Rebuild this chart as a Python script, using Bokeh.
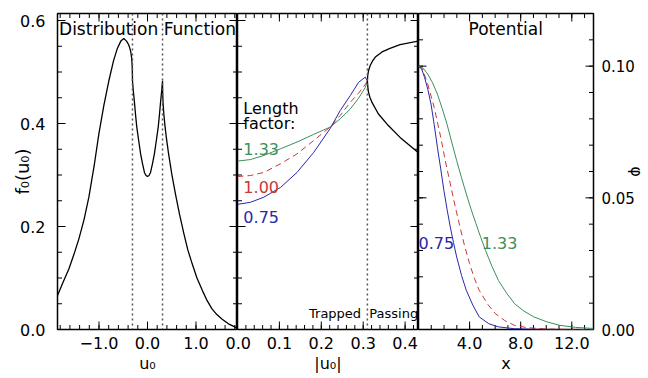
import math
from bokeh.plotting import figure
from bokeh.models import (Range1d, LinearAxis, FixedTicker, PrintfTickFormatter,
                          CustomJSTickFormatter, Label, Span)
from bokeh.layouts import row
from bokeh.embed import file_html
from bokeh.resources import INLINE

FONT = "DejaVu Sans"
GREEN = "#3b8f5c"
RED = "#c83737"
BLUE = "#2828a8"

# ---------------- data ----------------
# Panel 1: distribution function f0(u0)
u0 = [-1.856, -1.75, -1.62, -1.52, -1.415, -1.31, -1.209, -1.10, -1.003, -0.90,
      -0.797, -0.70, -0.625, -0.55, -0.488, -0.432, -0.388, -0.364, -0.345, -0.329,
      -0.317, -0.3135, -0.311, -0.310, -0.293, -0.269, -0.245, -0.221, -0.182, -0.142,
      -0.103, -0.063, -0.031, 0.0, 0.031, 0.063, 0.103, 0.142, 0.182, 0.221,
      0.245, 0.269, 0.293, 0.310, 0.311, 0.3126, 0.316, 0.321, 0.336, 0.360,
      0.388, 0.432, 0.50, 0.577, 0.66, 0.75, 0.83, 0.92, 1.02, 1.13,
      1.23, 1.33, 1.43, 1.54, 1.67, 1.81, 1.856]
f0 = [0.066, 0.090, 0.118, 0.145, 0.176, 0.213, 0.257, 0.318, 0.380, 0.435,
      0.483, 0.522, 0.545, 0.560, 0.565, 0.560, 0.553, 0.546, 0.539, 0.529,
      0.513, 0.505, 0.495, 0.483, 0.464, 0.441, 0.4155, 0.393, 0.367, 0.341,
      0.322, 0.305, 0.299, 0.297, 0.299, 0.305, 0.322, 0.341, 0.367, 0.393,
      0.4155, 0.441, 0.464, 0.483, 0.471, 0.461, 0.451, 0.441, 0.419, 0.396,
      0.373, 0.343, 0.302, 0.263, 0.224, 0.186, 0.155, 0.128, 0.100, 0.076,
      0.056, 0.040, 0.029, 0.020, 0.011, 0.0045, 0.003]
u_sep = 0.31  # trapped / passing boundary

# Panel 2: trapped part for three length factors, and passing branches
abs_u_trapped = [0.0, 0.031, 0.063, 0.103, 0.142, 0.182, 0.221, 0.245, 0.269, 0.289, 0.305, 0.310]
f_133 = [0.327, 0.330, 0.338, 0.351, 0.364, 0.379, 0.393, 0.409, 0.428, 0.449, 0.470, 0.483]
f_100 = [0.297, 0.299, 0.305, 0.322, 0.341, 0.367, 0.393, 0.4155, 0.441, 0.459, 0.476, 0.483]
f_075 = [0.243, 0.247, 0.257, 0.276, 0.305, 0.344, 0.390, 0.425, 0.454, 0.480, 0.490, 0.483]

abs_u_pass_hi = [0.310, 0.311, 0.3135, 0.317, 0.322, 0.329, 0.345, 0.364, 0.388, 0.432]
f_pass_hi = [0.483, 0.495, 0.505, 0.513, 0.521, 0.529, 0.539, 0.546, 0.553, 0.560]
abs_u_pass_lo = [0.310, 0.311, 0.3126, 0.316, 0.321, 0.336, 0.360, 0.388, 0.432]
f_pass_lo = [0.483, 0.471, 0.461, 0.451, 0.441, 0.419, 0.396, 0.373, 0.343]

# Panel 3: potential phi(x)
x_075 = [0, 0.25, 0.475, 0.73, 0.98, 1.23, 1.48, 1.74, 1.99, 2.24, 2.49, 2.74, 2.99,
         3.37, 3.74, 4.25, 4.75, 5.5, 6.26, 7.5, 9, 11, 13.7]
phi_075 = [0.1000, 0.0989, 0.0957, 0.0912, 0.0856, 0.0778, 0.0692, 0.0610, 0.0528, 0.0455,
           0.0389, 0.0330, 0.0275, 0.0205, 0.0149, 0.0093, 0.0048, 0.0022, 0.0010, 0.0003,
           0.0001, 0.0, 0.0]
x_100 = [0, 0.3, 0.725, 1.23, 1.74, 2.1, 2.49, 2.87, 3.25, 3.62, 4.0, 4.37, 4.75, 5.4,
         6.0, 6.75, 7.5, 8.5, 10, 12, 13.7]
phi_100 = [0.1000, 0.0990, 0.0932, 0.0843, 0.0730, 0.0640, 0.0553, 0.0468, 0.0389, 0.0315,
           0.0250, 0.0195, 0.0149, 0.0097, 0.0061, 0.0034, 0.0016, 0.0007, 0.0002, 0.0, 0.0]
x_133 = [0, 0.35, 0.725, 1.1, 1.48, 1.85, 2.23, 2.6, 2.99, 3.37, 3.74, 4.12, 4.5, 4.87,
         5.25, 5.75, 6.26, 6.9, 7.52, 8.25, 9.03, 10, 11.04, 12.3, 13.7]
phi_133 = [0.1000, 0.0993, 0.0970, 0.0937, 0.0894, 0.0840, 0.0780, 0.0712, 0.0641, 0.0576,
           0.0515, 0.0456, 0.0402, 0.0350, 0.0300, 0.0240, 0.0186, 0.0138, 0.0098, 0.0070,
           0.0048, 0.0030, 0.0016, 0.0008, 0.0004]

# tick values
p1_xticks = [-1.0, 0.0, 1.0]
p1_xminor = [round(-1.8 + 0.2 * i, 2) for i in range(19)]
f_ticks = [0.0, 0.2, 0.4, 0.6]
f_minor = [round(0.05 * i, 2) for i in range(13)]
p2_xticks = [0.0, 0.1, 0.2, 0.3, 0.4]
p2_xminor = [round(0.02 * i, 2) for i in range(22)]
p3_xticks = [4.0, 8.0, 12.0]
p3_xminor = [float(i) for i in range(14)]
phi_ticks = [0.0, 0.05, 0.10]
phi_minor = [round(0.01 * i, 2) for i in range(13)]

# ranges
U_RANGE = (-1.856, 1.856)
F_RANGE = (0.0, 0.6136)
AU_RANGE = (0.0, 0.432)
X_RANGE = (0.0, 13.7)
PHI_RANGE = (0.0, 0.12)

H = 378
MAJOR_LEN = 16   # marker length; half of it lies inside the frame
MINOR_LEN = 9


def make_fig(width, xr, yr, ml, mr):
    p = figure(width=width, height=H, x_range=Range1d(*xr), y_range=Range1d(*yr),
               output_backend="svg", toolbar_location=None,
               x_axis_location=None, y_axis_location=None,
               min_border_left=ml, min_border_right=mr, min_border_top=13,
               min_border_bottom=49)
    p.grid.grid_line_color = None
    p.outline_line_color = "black"
    p.outline_line_width = 1.5
    p.outline_line_alpha = 1.0
    return p


def add_axis(p, side, ticks, fmt, label=None, size="16px", label_size="16px",
             label_standoff=2, tick_standoff=7):
    ax = LinearAxis(ticker=FixedTicker(ticks=ticks, minor_ticks=[]))
    ax.axis_line_color = None
    ax.major_tick_line_color = None
    ax.minor_tick_line_color = None
    ax.major_tick_in = 0
    ax.major_tick_out = 0
    ax.minor_tick_in = 0
    ax.minor_tick_out = 0
    ax.formatter = fmt
    ax.major_label_text_font = FONT
    ax.major_label_text_font_size = size
    ax.major_label_text_color = "black"
    ax.major_label_standoff = tick_standoff
    if label is not None:
        ax.axis_label = label
        ax.axis_label_text_font = FONT
        ax.axis_label_text_font_size = label_size
        ax.axis_label_text_font_style = "normal"
        ax.axis_label_text_color = "black"
        ax.axis_label_standoff = label_standoff
    p.add_layout(ax, side)
    return ax


def add_ticks(p, xr, yr, xmaj, xmin, ymaj, ymin):
    """Inward box ticks: dash markers centred on the frame edge, clipped to the frame."""
    for ticks, size in ((xmaj, MAJOR_LEN), (xmin, MINOR_LEN)):
        for yedge in yr:
            p.scatter(ticks, [yedge] * len(ticks), marker="dash", size=size,
                      angle=math.pi / 2, line_color="black", line_width=1)
    for ticks, size in ((ymaj, MAJOR_LEN), (ymin, MINOR_LEN)):
        for xedge in xr:
            p.scatter([xedge] * len(ticks), ticks, marker="dash", size=size,
                      angle=0, line_color="black", line_width=1)


def add_text(p, x, y, text, color="black", align="left", size="16px", lift=5):
    p.add_layout(Label(x=x, y=y, y_offset=lift, text=text, text_font=FONT,
                       text_font_size=size, text_color=color, text_align=align,
                       text_baseline="alphabetic"))


minus_fmt = CustomJSTickFormatter(
    code="return (tick < 0 ? '\u2212' : '') + Math.abs(tick).toFixed(1);")

# ---------------- panel 1 ----------------
p1 = make_fig(237, U_RANGE, F_RANGE, 57, 0)
add_axis(p1, "left", f_ticks, PrintfTickFormatter(format="%.1f"),
         label="f\u2080(u\u2080)", label_size="18px", label_standoff=-16, tick_standoff=12)
add_axis(p1, "below", p1_xticks, minus_fmt, label="u\u2080")
add_ticks(p1, U_RANGE, F_RANGE, p1_xticks, p1_xminor, f_ticks, f_minor)
for loc in (-u_sep, u_sep):
    p1.add_layout(Span(location=loc, dimension="height", line_color="#555555",
                       line_width=1.5, line_dash="2 3"))
p1.line(u0, f0, line_color="black", line_width=1.3)
add_text(p1, 0.0, 0.5753, "Distribution Function", align="center", size="17px", lift=4)

# ---------------- panel 2 ----------------
# a transparent 12px left border overlaps panel 1 so that the "0.0" label can straddle the edge
p2 = make_fig(193, AU_RANGE, F_RANGE, 12, 0)
p2.border_fill_color = None
p2.margin = (0, 0, 0, -12)
add_axis(p2, "below", p2_xticks, PrintfTickFormatter(format="%.1f"), label="|u\u2080|")
add_ticks(p2, AU_RANGE, F_RANGE, p2_xticks, p2_xminor, f_ticks, f_minor)
p2.add_layout(Span(location=u_sep, dimension="height", line_color="#555555",
                   line_width=1.5, line_dash="2 3"))
p2.line(abs_u_trapped, f_133, line_color=GREEN, line_width=1)
p2.line(abs_u_trapped, f_100, line_color=RED, line_width=1, line_dash="6 4")
p2.line(abs_u_trapped, f_075, line_color=BLUE, line_width=1)
p2.line(abs_u_pass_hi, f_pass_hi, line_color="black", line_width=1.3)
p2.line(abs_u_pass_lo, f_pass_lo, line_color="black", line_width=1.3)
add_text(p2, 0.014, 0.4194, "Length")
add_text(p2, 0.014, 0.3903, "factor:")
add_text(p2, 0.014, 0.341, "1.33", GREEN)
add_text(p2, 0.014, 0.2666, "1.00", RED)
add_text(p2, 0.014, 0.208, "0.75", BLUE)
add_text(p2, 0.295, 0.0227, "Trapped", align="right", size="13px", lift=4)
add_text(p2, 0.3145, 0.0227, "Passing", size="13px", lift=4)

# ---------------- panel 3 ----------------
p3 = make_fig(230, X_RANGE, PHI_RANGE, 0, 48)
add_axis(p3, "right", phi_ticks, PrintfTickFormatter(format="%.2f"),
         label="\u03c6", size="15px", label_standoff=-11, tick_standoff=8)
add_axis(p3, "below", p3_xticks, PrintfTickFormatter(format="%.1f"), label="x")
add_ticks(p3, X_RANGE, PHI_RANGE, p3_xticks, p3_xminor, phi_ticks, phi_minor)
p3.line(x_133, phi_133, line_color=GREEN, line_width=1)
p3.line(x_100, phi_100, line_color=RED, line_width=1, line_dash="6 4")
p3.line(x_075, phi_075, line_color=BLUE, line_width=1)
add_text(p3, 0.0, 0.0311, "0.75", BLUE)
add_text(p3, 4.95, 0.0311, "1.33", GREEN)
add_text(p3, 6.83, 0.1123, "Potential", align="center", size="17px")

layout = row(p1, p2, p3, spacing=0)
open("out.html", "w").write(file_html(layout, INLINE))
